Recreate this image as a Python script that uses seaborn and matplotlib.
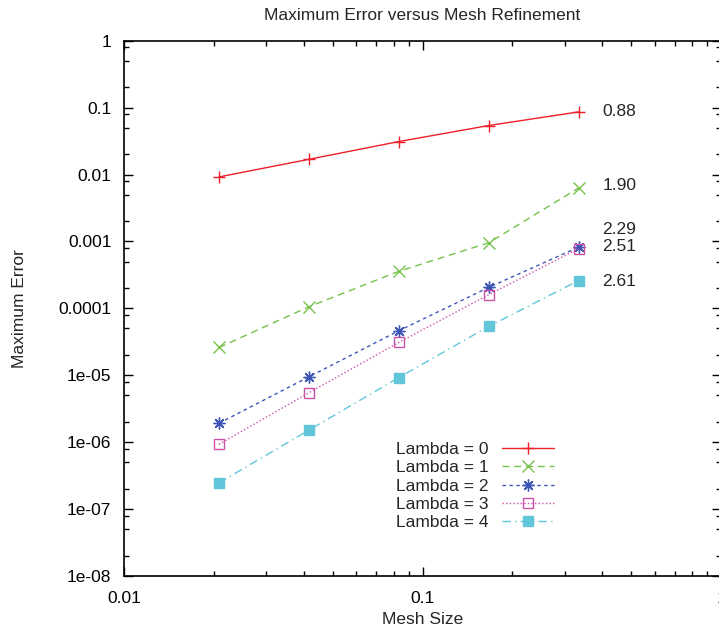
import numpy as np
import pandas as pd
import seaborn as sns
import matplotlib.pyplot as plt
from matplotlib.ticker import LogLocator, FuncFormatter, NullFormatter

# Data (log-log convergence study)
mesh_size = [0.0208, 0.0417, 0.0833, 0.1667, 0.3333]
err_lambda0 = [0.0092, 0.0169, 0.0311, 0.054, 0.0863]
err_lambda1 = [2.6e-5, 1.06e-4, 3.58e-4, 9.55e-4, 6.28e-3]
err_lambda2 = [1.92e-6, 9.5e-6, 4.63e-5, 2.06e-4, 8.2e-4]
err_lambda3 = [9.3e-7, 5.5e-6, 3.1e-5, 1.6e-4, 7.8e-4]
err_lambda4 = [2.47e-7, 1.52e-6, 9.25e-6, 5.37e-5, 2.6e-4]
series_labels = ["Lambda = 0", "Lambda = 1", "Lambda = 2", "Lambda = 3", "Lambda = 4"]
rate_labels = ["0.88", "1.90", "2.29", "2.51", "2.61"]

errors = [err_lambda0, err_lambda1, err_lambda2, err_lambda3, err_lambda4]

sns.set_style("ticks")
plt.rcParams["font.family"] = ["Liberation Sans", "DejaVu Sans"]
plt.rcParams["font.size"] = 12.5

# line styles, gnuplot-ish
colors = ["#f0202a", "#77c24a", "#3e55b5", "#cc4fa8", "#62c6db"]
markers = ["+", "x", (8, 2, 0), "s", "s"]
msizes = [8.5, 8, 8.5, 7, 7]
linestyles = ["-", (0, (5, 3.5)), (0, (2.5, 2.5)), (0, (1, 1.6)), (0, (6, 3, 1, 3))]
facecols = colors[:3] + ["none", colors[4]]
# label offsets (pixels) from the last point
label_dy = [0, 3, 18, 2, -1]

fig = plt.figure(figsize=(7.19, 6.32), dpi=100)
ax = fig.add_axes([124 / 719, (632 - 576) / 632, (721 - 124) / 719, (576 - 40.7) / 632])

for i in range(5):
    df = pd.DataFrame({"mesh": mesh_size, "err": errors[i]})
    sns.lineplot(data=df, x="mesh", y="err", ax=ax, color=colors[i], marker=markers[i],
                 markersize=msizes[i], markeredgewidth=1.0, linestyle=linestyles[i],
                 linewidth=1.0, label=series_labels[i])
    line = ax.lines[-1]
    line.set_markeredgecolor(colors[i])
    line.set_markerfacecolor(facecols[i])
    ax.annotate(rate_labels[i], xy=(mesh_size[-1], errors[i][-1]), xytext=(24, label_dy[i]),
                textcoords="offset pixels", ha="left", va="center", fontsize=12.5)

ax.set_xscale("log")
ax.set_yscale("log")
ax.set_xlim(0.01, 1)
ax.set_ylim(1e-8, 1)

ax.xaxis.set_major_locator(LogLocator(base=10, numticks=10))
ax.xaxis.set_minor_locator(LogLocator(base=10, subs=np.arange(2, 10), numticks=20))
ax.yaxis.set_major_locator(LogLocator(base=10, numticks=20))
ax.yaxis.set_minor_locator(LogLocator(base=10, subs=[2, 5, 8], numticks=20))
fmt = FuncFormatter(lambda v, p: f"{v:g}")
ax.xaxis.set_major_formatter(fmt)
ax.yaxis.set_major_formatter(fmt)
ax.xaxis.set_minor_formatter(NullFormatter())
ax.yaxis.set_minor_formatter(NullFormatter())

ax.tick_params(which="both", direction="in", top=True, right=True, width=1.0, colors="black")
ax.tick_params(which="major", length=6.5)
ax.tick_params(which="minor", length=3.3)
ax.tick_params(axis="x", which="major", pad=11, labelsize=12.5)
ax.tick_params(axis="y", which="major", pad=9, labelsize=12.5)
for s in ax.spines.values():
    s.set_linewidth(1.2)
    s.set_color("black")

ax.set_title("Maximum Error versus Mesh Refinement", fontsize=12.5, pad=15)
ax.set_xlabel("Mesh Size", fontsize=12.5, va="center")
ax.set_ylabel("Maximum Error", fontsize=12.5, va="center")
ax.xaxis.set_label_coords(0.5, -(619 - 576) / 535.3)
ax.yaxis.set_label_coords((20 - 124) / 597, 0.5)

leg = ax.legend(loc="center", bbox_to_anchor=(475 / 719, 1 - 486 / 632), bbox_transform=fig.transFigure,
                frameon=False, markerfirst=False, handlelength=3.0, handletextpad=0.75,
                labelspacing=0.17, numpoints=1, fontsize=12.5, borderaxespad=0)
for h, c, fc in zip(leg.get_lines(), colors, facecols):
    h.set_markeredgecolor(c)
    h.set_markerfacecolor(fc)

fig.savefig("out.png", dpi=100)
